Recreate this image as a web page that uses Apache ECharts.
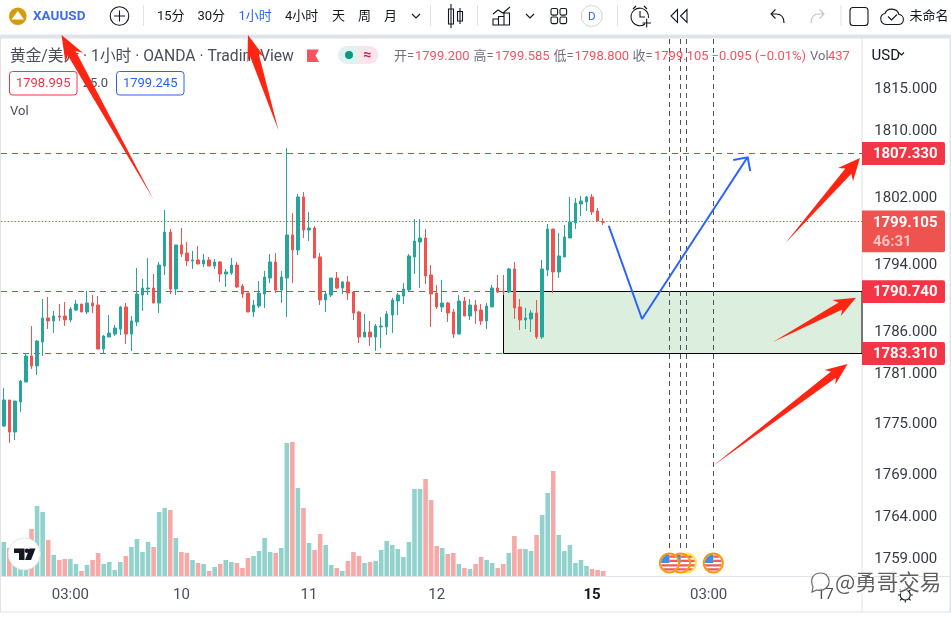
<!DOCTYPE html>
<html><head><meta charset="utf-8">
<style>html,body{margin:0;padding:0;background:#fff}#c{width:951px;height:622px}</style>
<script src="https://cdn.jsdelivr.net/npm/echarts@6/dist/echarts.min.js"></script>
</head><body><div id="c"></div>
<script>
const opens=[1774.83,1777.93,1774.11,1777.69,1780.07,1783.18,1781.99,1784.84,1787.71,1787.35,
1787.94,1787.94,1787.47,1788.66,1789.37,1788.42,1789.49,1789.25,1784.01,1785.44,
1785.79,1786.39,1789.02,1785.79,1787.23,1790.44,1791.16,1791.28,1789.49,1793.90,
1797.95,1791.16,1796.41,1795.45,1794.50,1794.62,1794.14,1794.62,1793.90,1794.38,
1792.95,1793.07,1794.02,1791.52,1790.68,1788.42,1789.13,1790.56,1792.47,1794.38,
1791.04,1792.47,1797.60,1795.81,1802.13,1798.19,1798.43,1794.98,1789.85,1790.44,
1792.47,1791.28,1791.99,1790.80,1788.42,1785.44,1786.03,1785.44,1786.63,1786.63,
1788.06,1789.73,1790.32,1791.04,1794.98,1796.76,1797.24,1792.83,1790.68,1789.02,
1789.49,1788.42,1785.79,1789.73,1787.94,1789.25,1788.66,1787.35,1789.02,1791.28,
1790.92,1790.80,1793.55,1789.02,1787.47,1787.59,1788.30,1785.44,1793.43,1798.31,
1793.19,1794.98,1797.24,1799.03,1801.29,1801.53,1802.13,1800.46,1799.20];
const closes=[1777.93,1774.11,1777.81,1780.19,1783.18,1781.99,1784.96,1787.71,1787.35,1787.94,
1787.82,1787.47,1788.78,1789.37,1788.42,1789.49,1789.13,1784.01,1785.56,1785.91,
1786.51,1789.02,1785.79,1787.35,1790.56,1791.28,1791.28,1789.49,1794.02,1797.95,
1791.16,1796.41,1795.33,1794.50,1794.62,1794.14,1794.62,1793.90,1794.38,1792.95,
1793.19,1794.02,1791.40,1790.56,1788.42,1789.25,1790.68,1792.59,1794.38,1791.04,
1792.59,1797.60,1795.81,1802.13,1798.19,1798.43,1794.86,1789.85,1790.56,1792.47,
1791.28,1791.99,1790.68,1788.30,1785.44,1786.03,1785.44,1786.75,1786.75,1788.18,
1789.85,1790.44,1791.16,1795.10,1796.88,1797.24,1792.71,1790.56,1789.02,1789.49,
1788.30,1785.79,1789.73,1787.94,1789.25,1788.54,1787.35,1789.13,1791.28,1790.80,
1790.80,1793.55,1788.90,1787.47,1787.71,1788.30,1785.44,1793.55,1798.31,1793.19,
1795.10,1797.36,1799.15,1801.41,1801.65,1802.13,1800.34,1799.27,1799.105];
const highs=[1779.36,1777.93,1777.81,1780.31,1783.53,1786.75,1785.08,1789.97,1790.21,1788.54,
1789.37,1789.61,1789.02,1789.85,1789.37,1790.92,1790.44,1790.32,1785.68,1788.06,
1786.87,1789.13,1789.49,1787.94,1793.67,1792.35,1794.86,1792.95,1794.38,1800.58,
1798.31,1796.41,1798.43,1796.76,1795.69,1796.29,1795.33,1794.98,1794.74,1794.50,
1793.55,1794.86,1794.38,1791.76,1790.68,1789.85,1792.11,1793.31,1795.33,1795.45,
1793.31,1807.97,1800.22,1802.48,1802.72,1800.34,1798.67,1795.45,1790.92,1792.47,
1793.19,1792.11,1792.71,1790.80,1788.54,1788.18,1787.35,1786.99,1787.82,1788.54,
1790.09,1790.68,1791.87,1795.33,1799.50,1799.50,1798.31,1794.02,1791.64,1792.23,
1789.61,1788.78,1790.44,1790.21,1789.97,1789.85,1789.37,1789.49,1791.64,1792.83,
1792.83,1793.67,1794.38,1789.97,1788.90,1788.66,1789.85,1794.62,1798.91,1798.31,
1797.84,1798.79,1802.13,1802.01,1802.25,1802.25,1802.48,1800.82,1799.585];
const lows=[1774.72,1772.80,1773.16,1776.50,1780.07,1781.63,1780.91,1783.18,1786.39,1785.91,
1787.35,1786.75,1787.23,1788.54,1788.42,1788.18,1788.30,1784.01,1783.53,1785.44,
1785.56,1785.68,1784.60,1783.77,1786.75,1788.54,1790.44,1789.49,1788.30,1792.83,
1790.56,1790.44,1794.98,1793.90,1793.55,1794.14,1793.78,1793.90,1793.55,1791.99,
1791.40,1792.83,1791.28,1790.09,1788.42,1787.82,1788.90,1788.90,1791.87,1790.68,
1789.49,1787.82,1791.87,1795.21,1797.24,1796.88,1794.86,1789.25,1788.42,1790.21,
1791.16,1790.56,1789.85,1787.47,1784.72,1785.44,1784.37,1783.77,1784.13,1785.68,
1785.91,1788.06,1789.37,1790.92,1792.95,1791.28,1791.76,1786.63,1788.78,1788.42,
1787.23,1785.32,1785.79,1787.94,1787.47,1787.00,1786.87,1786.39,1789.02,1790.68,
1790.44,1790.68,1787.59,1786.27,1786.39,1786.03,1785.20,1785.20,1792.71,1790.68,
1792.47,1794.98,1797.24,1798.31,1799.86,1800.46,1799.98,1799.27,1798.80];
const volumes=[2958,2436,1537,957,1537,4089,6090,5568,3132,1827,
1392,1479,1479,1044,435,957,1392,2001,1044,1218,
522,1218,1740,2523,3219,2088,2958,2523,5568,5916,
5742,3306,2088,2001,1392,1131,1044,435,783,1044,
1392,1218,1131,696,1566,1740,2175,3306,2088,2001,
2436,11571,11658,7656,5916,2871,2262,3654,2697,957,
696,435,1305,2088,1740,1131,1218,1305,2262,3045,
2697,2349,1653,2958,7569,7569,8439,6612,2610,2436,
1914,2001,1044,696,609,1044,1653,1392,1131,696,
1044,2001,3480,2349,2349,2175,3567,5307,7221,9135,
3567,2175,2697,1131,1392,870,609,522,437];
const tickIndex=[12,32,55,78,106,127,148];
const tickText=['03:00','10','11','12','15','03:00','17'];
const priceTicks=[1815,1810,1802,1794,1786,1781,1775,1769,1764,1759];
const levelHigh=1807.33, levelLast=1799.105, zoneTop=1790.74, zoneBottom=1783.31;
const zoneStartIndex=90;
const eventIndex=[120,122,123,128];
const plannedPath=[[109,1798.7],[115,1787.58],[134,1806.87]];

const CAT=155, UP='#26a69a', DOWN='#ef5350', TAG='#f23645';
const categories=Array.from({length:CAT},(_,i)=>String(i));
const FF='Roboto,"Noto Sans CJK SC",sans-serif';
const candles=opens.map((o,i)=>[o,closes[i],lows[i],highs[i]]);
const volData=volumes.map((v,i)=>({value:v,itemStyle:{color:closes[i]>=opens[i]?'#92d2cc':'#f7a9a7'}}));

/* ---- page furniture ---- */
const g=[];
function T(x,y,text,fill,size,o){g.push(Object.assign({type:'text',z:80,silent:true,style:Object.assign({x,y:y+1,text,fill,fontSize:size||13,fontFamily:FF,align:'left',verticalAlign:'middle'},o||{})}));}
function R(x,y,w,h,fill,stroke,r,z,lw){g.push({type:'rect',z:z==null?70:z,silent:true,shape:{x,y,width:w,height:h,r:r||0},style:{fill:fill||'none',stroke:stroke||'none',lineWidth:lw||1}});}
const LAV='#e0e3eb', INK='#131722';
R(0,34.5,951,4,LAV,null,0,1);R(0,38,1,574,LAV,null,0,1);R(949.5,38,1.5,574,LAV,null,0,1);
R(0,611.5,951,1,LAV,null,0,1);R(1,576,949,1,LAV,null,0,1);R(861.5,38,1,574,LAV,null,0,1);
[143,430,477,617,840.5].forEach(x=>R(x,5,1,21,LAV));
/* toolbar text */
T(33,16,'XAUUSD','#3f6cf5',13.5,{fontWeight:700});
[[157,'15分'],[197.5,'30分'],[238.5,'1小时','#2962ff'],[285,'4小时'],[332,'天'],[358,'周'],[384,'月']].forEach(a=>T(a[0],16,a[1],a[2]||INK,13));
T(909.5,16,'未命名',INK,13);
T(591.7,16,'D','#2962ff',11.5,{align:'center'});
/* legend row */
T(10,56,'黄金/美元 · 1小时 · OANDA · TradingView','#4a4e5a',15.7);
const L='#6f727d', V='#f7525f';
[[394,'开=',L],[415,'1799.200',V],[473.5,'高=',L],[495,'1799.585',V],[553.5,'低=',L],[574.5,'1798.800',V],[632.5,'收=',L],[654,'1799.105',V],[711.5,'−0.095 (−0.01%)',V],[810,'Vol',L],[828,'437',V]].forEach(a=>T(a[0],56,a[1],a[2],13));
T(871.5,55,'USD',INK,15);
R(9.5,71.5,67.5,23.5,'#fff',TAG,3);T(43.2,83,'1798.995',TAG,13,{align:'center'});
T(108,83,'25.0','#4a4e5a',13,{align:'right'});
R(116.5,71.5,67.5,23.5,'#fff','#2962ff',3);T(150.2,83,'1799.245','#2962ff',13,{align:'center'});
T(10,111,'Vol','#4a4e5a',13);
/* simple shapes */
g.push({type:'circle',z:70,silent:true,shape:{cx:17.8,cy:16.3,r:8.8},style:{fill:'#d49b0c'}});
g.push({type:'circle',z:70,silent:true,shape:{cx:119.5,cy:16,r:9.3},style:{fill:'none',stroke:INK,lineWidth:1.1}});
g.push({type:'circle',z:70,silent:true,shape:{cx:591.7,cy:16,r:10.5},style:{fill:'#fff',stroke:'#d1d4dc',lineWidth:1}});
R(850,7.5,18,18,'none',INK,3,70,1.1);
[[551,8.5],[560,8.5],[551,17],[560,17]].forEach(a=>R(a[0],a[1],6.6,6.6,'none',INK,1.5,70,1.1));
/* legend flag and pill */
g.push({type:'polygon',z:70,silent:true,shape:{points:[[307,49.5],[319,49.5],[315.5,55.5],[319,62],[307,62]]},style:{fill:'#f7525f'}});
R(338,46,40,18,'#e0f2ef',null,9);
g.push({type:'sector',z:71,silent:true,shape:{cx:369,cy:55,r0:0,r:9,startAngle:-Math.PI/2,endAngle:Math.PI/2},style:{fill:'#fce4ec'}});
R(358,46,11,18,'#fce4ec',null,0,71);
g.push({type:'circle',z:72,silent:true,shape:{cx:349,cy:55,r:4},style:{fill:'#089981'}});
T(367.5,54,'≈','#c2185b',14,{align:'center',fontWeight:700});
/* TradingView badge */
g.push({type:'circle',z:70,silent:true,shape:{cx:24.3,cy:554,r:16},style:{fill:'#fff',stroke:'#e6e6e6',lineWidth:1}});
g.push({type:'polygon',z:71,silent:true,shape:{points:[[14,548.5],[24.5,548.5],[24.5,560],[19,560],[19,553],[14,553]]},style:{fill:INK}});
g.push({type:'polygon',z:71,silent:true,shape:{points:[[29.5,548.5],[35.5,548.5],[31,560],[25,560]]},style:{fill:INK}});
g.push({type:'circle',z:71,silent:true,shape:{cx:27,cy:550.8,r:2.3},style:{fill:INK}});
/* blue arrow head */
g.push({type:'polyline',z:40,silent:true,shape:{points:[[733.3,160],[747.7,157.3],[750.2,171]]},style:{fill:'none',stroke:'#2962ff',lineWidth:2}});
/* red hand-drawn arrows */
const RED='#ff2512';
function arrow(tx,ty,hx,hy,len,half,neck){
  const dx=hx-tx,dy=hy-ty,d=Math.hypot(dx,dy),ux=dx/d,uy=dy/d,nx=-uy,ny=ux;
  const bx=hx-ux*len,by=hy-uy*len, cx=hx-ux*len*0.8, cy=hy-uy*len*0.8;
  g.push({type:'polygon',z:90,silent:true,shape:{points:[[tx,ty],[cx+nx*neck,cy+ny*neck],[bx+nx*half,by+ny*half],[hx,hy],[bx-nx*half,by-ny*half],[cx-nx*neck,cy-ny*neck]]},style:{fill:RED}});
}
arrow(153.5,199.5,61.5,35,26,10,4.5);
arrow(278.5,130.5,248,35,26,9,4.5);
arrow(785,243.5,860,158,22,10,4);
arrow(773,342,856,297.7,22,9,4);
arrow(711.5,467,847.5,364,22,9,4);
/* watermark */
T(835,581,'@勇哥交易','#5f5f5f',21.5,{fontFamily:'"Noto Sans CJK SC",sans-serif',stroke:'#fff',lineWidth:1.5,});
g[g.length-1].z=95;

/* ---- vector icons drawn as paths ---- */
function P(d,stroke,fill,lw){return {type:'path',shape:{pathData:d},style:{stroke:stroke||INK,fill:fill||'none',lineWidth:lw||1.1}};}
const flag=(cx,ring)=>({type:'group',x:cx,y:563,children:[
  {type:'circle',shape:{cx:0,cy:0,r:9.6},style:{fill:'#fff',stroke:ring,lineWidth:2}},
  P('M0 0L-8.5 0A8.5 8.5 0 0 1 0 -8.5Z','none','#3f8fe8'),
  P('M0 -7.5H4.2L6.6 -5.2H0Z M0 -3.2H7.9L8.4 -1H0Z M-8.4 1.2H8.4L7.8 3.5H-7.8Z M-6.8 5.2H6.8L4 7.6H-4Z','none','#ef5a5a')
]});
const icons=[
  P('M11.5 19.5L17.8 11L24 19.5Z M14 19.5L17.8 14.5','none','#fff'),
  P('M119.5 10.5V21.5 M114 16H125'),
  P('M412 14l4 4l4 -4',INK),P('M526 14l4 4l4 -4',INK),P('M899 52.5l2.5 2.5l2.5 -2.5',INK),
  P('M451 4V28 M448.5 9H453.5V24H448.5Z M460 8V24 M457.5 11.5H462.5V21H457.5Z'),
  P('M493 25V19H498.5V25 M498.5 25V16.5H504V25 M504 25V13H509.5V25 M492.5 25H510 M493 14L498 10L503 13L510 7'),
  P('M645 24A8.8 8.8 0 1 1 648.5 18 M640 11V17H645 M633 9L636 6 M647 9L644 6 M642.5 23H651 M646.7 18.8V27.5'),
  P('M677.5 9.5L671 16L677.5 22.5Z M687 9.5L680.5 16L687 22.5Z'),
  P('M784 23C784 17 781 14 776 14H771 M775.5 9.5L771 14L775.5 18.5'),
  P('M811 23C811 17 814 14 819 14H824 M819.5 9.5L824 14L819.5 18.5','#c1c4cd'),
  P('M887 24.5H898C905 24.5 905 15 899 14.5C897 7.5 887 7.5 885 13.5C879 14 879 24.5 887 24.5Z M888 16.5l3.5 3.5l5.5 -5.5'),
  /* gear */
  P('M905.3 590A5 5 0 1 1 905.2 590Z M905.3 587.5V590 M905.3 600V602.5 M897.8 595H900.3 M910.3 595H912.8 M900 589.7L901.8 591.5 M908.8 598.5L910.6 600.3 M910.6 589.7L908.8 591.5 M901.8 598.5L900 600.3'),
  flag(686.5,'#ffeb3b'),flag(680.7,'#ff9800'),flag(669.5,'#ff9800'),flag(713.3,'#ff9800'),
  /* watermark icon */
  P('M821 573C812 573 810 580 813 587L812 592L817 590C824 592 830 586 829 580C828 576 825 573 821 573Z','#6a6a6a','rgba(255,255,255,0.75)',1.2)
];

/* ---- series helpers using the chart scales ---- */
function levelsItem(p,api){
  const c=p.coordSys, right=c.x+c.width+0.75, kids=[];
  const row=v=>Math.floor(api.coord([0,v])[1])+.5;
  const yTop=row(zoneTop), yBot=row(zoneBottom), x0=Math.floor(api.coord([zoneStartIndex,zoneTop])[0])+.5;
  kids.push({type:'rect',shape:{x:x0,y:yTop,width:right-x0,height:yBot-yTop},style:{fill:'#dcefde',stroke:'#000',lineWidth:1}});
  const hl=(v,xb,dash)=>kids.push({type:'line',shape:{x1:c.x,y1:row(v),x2:xb,y2:row(v)},style:{stroke:TAG,lineWidth:1,lineDash:dash}});
  hl(levelHigh,right,[6,5]);hl(zoneTop,x0,[6,5]);hl(zoneBottom,x0,[6,5]);hl(levelLast,right,[1.3,2.1]);
  eventIndex.forEach(i=>{const x=Math.floor(api.coord([i,zoneTop])[0]-.2)+.5;kids.push({type:'line',shape:{x1:x,y1:39,x2:x,y2:552},style:{stroke:'#50535e',lineWidth:1,lineDash:[5,4]}});});
  return {type:'group',children:kids};
}
function tagsItem(p,api){
  const kids=[], lab={fill:'#fff',fontSize:15,fontWeight:700,fontFamily:FF,align:'right',verticalAlign:'middle'};
  [levelHigh,zoneTop,zoneBottom].forEach(v=>{const y=api.coord([0,v])[1];
    kids.push({type:'rect',shape:{x:862,y:y-11.4,width:83,height:22.8,r:[0,2,2,0]},style:{fill:TAG}});
    kids.push({type:'text',style:Object.assign({x:937.5,y:y+1,text:v.toFixed(3)},lab)});});
  const y=api.coord([0,levelLast])[1];
  kids.push({type:'rect',shape:{x:862,y:y-11.5,width:83,height:41.7,r:[0,2,2,0]},style:{fill:DOWN}});
  kids.push({type:'text',style:Object.assign({x:937.5,y:y+1,text:levelLast.toFixed(3)},lab)});
  kids.push({type:'text',style:{x:873,y:y+20,text:'46:31',fill:'rgba(255,255,255,0.65)',fontSize:15,fontWeight:700,fontFamily:FF,verticalAlign:'middle'}});
  return {type:'group',children:kids};
}

const chart=echarts.init(document.getElementById('c'),null,{renderer:'canvas',width:951,height:622});
chart.setOption({
  animation:false,backgroundColor:'#fff',tooltip:{show:false},
  grid:[{left:1,top:38,width:860.25,height:538},{left:1,top:440,width:860.25,height:136}],
  xAxis:[
    {type:'category',gridIndex:0,data:categories,show:false},
    {type:'category',gridIndex:1,data:categories,axisLine:{show:false},axisTick:{show:false},splitLine:{show:false},
     axisLabel:{margin:11.5,hideOverlap:false,color:'#4a4e5a',fontSize:15,fontFamily:FF,
       interval:i=>tickIndex.includes(i),
       formatter:(v,i)=>{const k=tickIndex.indexOf(+v);if(k<0)return '';return tickText[k]==='15'?'{b|15}':tickText[k];},
       rich:{b:{fontWeight:700,color:INK,fontSize:15,fontFamily:FF}}}}
  ],
  yAxis:[
    {type:'value',gridIndex:0,position:'right',scale:true,min:1756.95,max:1821.08,splitLine:{show:false},axisLine:{show:false},axisTick:{show:false},
     axisLabel:{customValues:priceTicks,formatter:v=>v.toFixed(3),color:'#363a45',fontSize:15,fontFamily:FF,align:'right',margin:76,padding:[5,0,0,0]}},
    {type:'value',gridIndex:1,min:0,max:11832,show:false},
    /* scale of the drawn price levels and their tags, as the reference places them */
    {type:'value',gridIndex:0,position:'right',scale:true,min:1756.585,max:1821.202,show:false}
  ],
  graphic:{elements:g},
  series:[
    {type:'custom',name:'levels',xAxisIndex:0,yAxisIndex:2,z:1,silent:true,clip:false,data:[[0,1800]],renderItem:levelsItem},
    {type:'bar',name:'Vol',xAxisIndex:1,yAxisIndex:1,barWidth:4.6,z:1,silent:true,data:volData},
    {type:'candlestick',name:'XAUUSD',xAxisIndex:0,yAxisIndex:0,barWidth:3,z:3,silent:true,data:candles,
     itemStyle:{color:UP,color0:DOWN,borderColor:UP,borderColor0:DOWN,borderWidth:1}},
    {type:'line',name:'plan',xAxisIndex:0,yAxisIndex:0,z:4,silent:true,symbol:'none',data:plannedPath,lineStyle:{color:'#2962ff',width:2}},
    {type:'custom',name:'tags',xAxisIndex:0,yAxisIndex:2,z:60,silent:true,clip:false,data:[[0,1800]],renderItem:tagsItem},
    {type:'custom',name:'icons',coordinateSystem:'none',z:75,silent:true,data:[[0]],renderItem:()=>({type:'group',children:icons})}
  ]
});
</script></body></html>
